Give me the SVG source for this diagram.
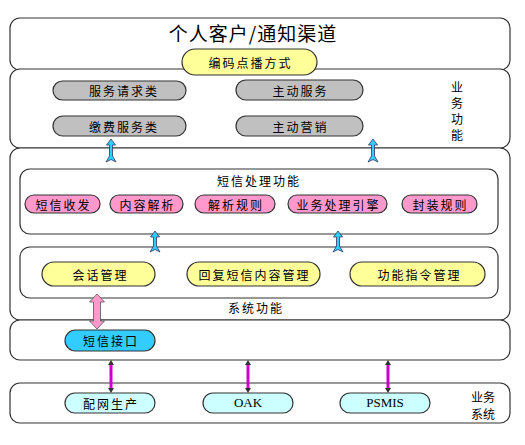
<svg xmlns="http://www.w3.org/2000/svg" width="525" height="445" viewBox="0 0 525 445">
<style>
.box{fill:#fff;stroke:#333;stroke-width:1.2}
.pill{stroke:#333;stroke-width:1.2}
.y{fill:#FFFF99}.g{fill:#C0C0C0}.p{fill:#FF99CC}.c{fill:#33CCFF}.lc{fill:#CCFFFF}
text{font-family:"Noto Sans CJK SC","Liberation Sans",sans-serif;font-size:12px;fill:#000;text-anchor:middle;dominant-baseline:central}
.s{letter-spacing:2px}
.t{font-size:19px;letter-spacing:1px}
.arc{fill:#33CCFF;stroke:#336;stroke-width:0.8}
</style>
<rect width="525" height="445" fill="#fff"/>
<g id="layer-channel"><rect class="box" x="10" y="18" width="500" height="52" rx="10"/><text class="t" x="253" y="32">个人客户/通知渠道</text></g>
<g id="layer-business"><rect class="box" x="10" y="69" width="500" height="79" rx="10"/>
<text x="457" y="86">业</text><text x="457" y="102">务</text><text x="457" y="118">功</text><text x="457" y="134">能</text></g>
<g id="layer-system"><rect class="box" x="10" y="148" width="500" height="172" rx="10"/><text class="s" x="256" y="307">系统功能</text></g>
<g id="sms-proc"><rect class="box" x="20" y="169" width="478" height="65" rx="10"/><text class="s" x="259" y="180">短信处理功能</text></g>
<g id="session-layer"><rect class="box" x="20" y="247" width="478" height="51" rx="10"/></g>
<g id="layer-interface"><rect class="box" x="10" y="320" width="500" height="40" rx="10"/></g>
<g id="layer-bizsys"><rect class="box" x="10" y="383" width="500" height="40" rx="10"/><text x="483" y="396">业务</text><text x="483" y="413">系统</text></g>
<g id="n-code"><rect class="pill y" x="182" y="49" width="135" height="26" rx="13"/><text class="s" x="250.5" y="62">编码点播方式</text></g>
<g id="n-req"><rect class="pill g" x="53" y="81" width="133" height="19" rx="9.5"/><text class="s" x="124" y="90.5">服务请求类</text></g>
<g id="n-active"><rect class="pill g" x="236" y="80" width="127" height="20" rx="10"/><text class="s" x="300.5" y="90">主动服务</text></g>
<g id="n-pay"><rect class="pill g" x="53" y="116" width="133" height="20" rx="10"/><text class="s" x="124" y="126">缴费服务类</text></g>
<g id="n-mkt"><rect class="pill g" x="236" y="116" width="127" height="20" rx="10"/><text class="s" x="300.5" y="126">主动营销</text></g>
<g id="n-sr"><rect class="pill p" x="25" y="195" width="75" height="18" rx="9"/><text class="s" x="63.5" y="204">短信收发</text></g>
<g id="n-cp"><rect class="pill p" x="110" y="195" width="73" height="18" rx="9"/><text class="s" x="147.5" y="204">内容解析</text></g>
<g id="n-pr"><rect class="pill p" x="195" y="195" width="80" height="18" rx="9"/><text class="s" x="236" y="204">解析规则</text></g>
<g id="n-eng"><rect class="pill p" x="288" y="195" width="99" height="18" rx="9"/><text class="s" x="338.5" y="204">业务处理引擎</text></g>
<g id="n-pack"><rect class="pill p" x="402" y="195" width="75" height="18" rx="9"/><text class="s" x="440.5" y="204">封装规则</text></g>
<g id="n-sess"><rect class="pill y" x="42" y="262" width="113" height="24" rx="12"/><text class="s" x="100.5" y="274">会话管理</text></g>
<g id="n-reply"><rect class="pill y" x="187" y="262" width="133" height="24" rx="12"/><text class="s" x="254.5" y="274">回复短信内容管理</text></g>
<g id="n-cmd"><rect class="pill y" x="350" y="262" width="135" height="24" rx="12"/><text class="s" x="419.5" y="274">功能指令管理</text></g>
<g id="n-smsif"><rect class="pill c" x="65" y="330" width="90" height="21" rx="10.5"/><text class="s" x="111" y="340.5">短信接口</text></g>
<g id="n-dist"><rect class="pill lc" x="65" y="393" width="90" height="20" rx="10"/><text class="s" x="111" y="403">配网生产</text></g>
<g id="n-oak"><rect class="pill lc" x="203" y="393" width="90" height="20" rx="10"/><text x="248" y="402" style="font-family:'Liberation Serif',serif;font-size:13px">OAK</text></g>
<g id="n-psmis"><rect class="pill lc" x="340" y="393" width="90" height="20" rx="10"/><text x="385" y="402" style="font-family:'Liberation Serif',serif;font-size:13px">PSMIS</text></g>
<g id="connectors">
<path class="arc" d="M111,139 L115.5,145 L112.5,145 L112.5,156 L116,162 L111,159.5 L106,162 L109.5,156 L109.5,145 L106.5,145 Z"/>
<path class="arc" d="M373,139 L377.5,145 L374.5,145 L374.5,156 L378,162 L373,159.5 L368,162 L371.5,156 L371.5,145 L368.5,145 Z"/>
<path class="arc" d="M155,231 L159.5,237 L156.5,237 L156.5,246 L160,252 L155,249.5 L150,252 L153.5,246 L153.5,237 L150.5,237 Z"/>
<path class="arc" d="M338,231 L342.5,237 L339.5,237 L339.5,246 L343,252 L338,249.5 L333,252 L336.5,246 L336.5,237 L333.5,237 Z"/>
<path d="M97,294 L104.5,302 L100.5,302 L100.5,321 L104.5,321 L97,329 L89.5,321 L93.5,321 L93.5,302 L89.5,302 Z" fill="#FF99CC" stroke="#555" stroke-width="0.8"/>
<g stroke="#CC00CC" stroke-width="3" fill="none"><line x1="111" y1="363" x2="111" y2="389"/><line x1="248" y1="363" x2="248" y2="389"/><line x1="388" y1="363" x2="388" y2="389"/></g>
<g fill="#333"><path d="M111,360 L114,365 L108,365 Z M111,393 L114,388 L108,388 Z"/><path d="M248,360 L251,365 L245,365 Z M248,393 L251,388 L245,388 Z"/><path d="M388,360 L391,365 L385,365 Z M388,393 L391,388 L385,388 Z"/></g>
</g>
</svg>
